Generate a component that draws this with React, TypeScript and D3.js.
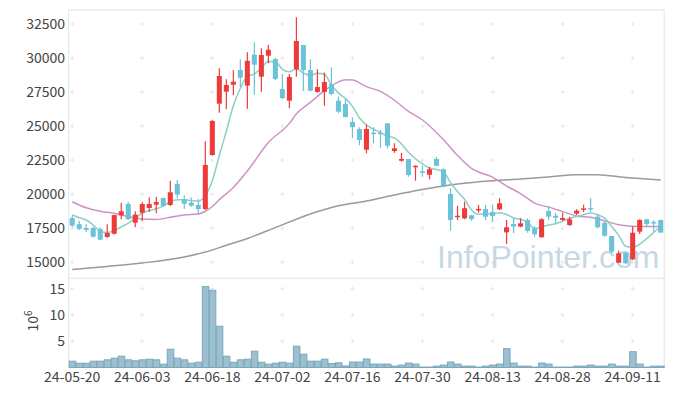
import React from 'react'
import * as d3 from 'd3'

const dates = [
  '24-05-20', '24-05-21', '24-05-22', '24-05-23', '24-05-24', '24-05-27', '24-05-28', '24-05-29', '24-05-30', '24-05-31',
  '24-06-03', '24-06-04', '24-06-05', '24-06-07', '24-06-10', '24-06-11', '24-06-12', '24-06-13', '24-06-14', '24-06-17',
  '24-06-18', '24-06-19', '24-06-20', '24-06-21', '24-06-24', '24-06-25', '24-06-26', '24-06-27', '24-06-28',
  '24-07-01', '24-07-02', '24-07-03', '24-07-04', '24-07-05', '24-07-08', '24-07-09', '24-07-10', '24-07-11', '24-07-12',
  '24-07-15', '24-07-16', '24-07-17', '24-07-18', '24-07-19', '24-07-22', '24-07-23', '24-07-24', '24-07-25', '24-07-26',
  '24-07-29', '24-07-30', '24-07-31',
  '24-08-01', '24-08-02', '24-08-05', '24-08-06', '24-08-07', '24-08-08', '24-08-09', '24-08-12', '24-08-13', '24-08-14',
  '24-08-16', '24-08-19', '24-08-20', '24-08-21', '24-08-22', '24-08-23', '24-08-26', '24-08-27', '24-08-28', '24-08-29',
  '24-08-30',
  '24-09-02', '24-09-03', '24-09-04', '24-09-05', '24-09-06', '24-09-09', '24-09-10', '24-09-11', '24-09-12', '24-09-13',
  '24-09-19', '24-09-20',
]

const opens = [
  18250, 17800, 17520, 17520, 17450, 16860, 17100, 18450, 19280, 17910,
  18640, 18990, 19230, 19720, 19210, 20760, 19630, 19380, 19210, 18910,
  22880, 26650, 27530, 28040, 29120, 27970, 30250, 28630, 30170, 29930,
  27720, 26870, 29170, 30960, 29120, 27510, 27510, 28090, 26870, 26630,
  25300, 24790, 23270, 24520, 24520, 25210, 23170, 22460, 22590, 21990,
  21680, 21430, 22590, 21830, 20020, 18360, 18230, 18450, 18860, 18910,
  18700, 18890, 17200, 17810, 17620, 18110, 17500, 16840, 18770, 18420,
  18110, 17740, 18570, 18900, 18990, 18350, 17910, 16930, 14970, 15700,
  15220, 17250, 18160, 17960, 18110,
]
const highs = [
  18420, 18050, 17800, 17620, 17570, 17800, 18500, 19380, 19450, 18750,
  19430, 19770, 19820, 19750, 20990, 21050, 19920, 19770, 19650, 23890,
  25450, 29250, 28440, 29100, 29910, 30420, 31160, 30720, 30980, 30030,
  28820, 28820, 32990, 30960, 29910, 29170, 28930, 29320, 27160, 26970,
  25650, 24910, 25100, 24910, 24720, 25210, 23740, 23050, 22590, 22100,
  22090, 22020, 22760, 21900, 20440, 19160, 19450, 18480, 19210, 19210,
  19250, 19700, 18100, 18230, 18230, 18230, 17620, 18230, 19140, 18640,
  18640, 18350, 18890, 19230, 19700, 18550, 17980, 16950, 15850, 15780,
  17620, 18160, 18180, 18110, 18130,
]
const lows = [
  17600, 17350, 17230, 16830, 16620, 16800, 17050, 18160, 18100, 17570,
  18010, 18700, 18600, 19100, 19130, 19700, 18940, 19080, 18550, 18840,
  22830, 25990, 26240, 27260, 27900, 26280, 27310, 27530, 29620, 28390,
  26970, 26310, 28630, 27580, 27560, 27460, 26500, 27270, 25940, 25650,
  24110, 23590, 23000, 23740, 23400, 23350, 23050, 22390, 21290, 20990,
  21290, 21100, 22070, 20510, 17320, 18100, 18160, 18060, 18640, 18110,
  17950, 18840, 16340, 17130, 17570, 17170, 16880, 16830, 18110, 17860,
  18060, 17670, 18470, 18670, 18720, 17500, 16880, 15660, 14970, 14880,
  15170, 17080, 17570, 17250, 17170,
]
const closes = [
  17700, 17450, 17380, 16880, 16660, 17150, 18470, 18750, 18160, 18500,
  19280, 19280, 19430, 19140, 20140, 19970, 19300, 19160, 18910, 22150,
  25380, 28680, 28020, 28260, 28560, 29800, 29510, 30220, 30610, 28460,
  27060, 28610, 31250, 29120, 27600, 27870, 28240, 27360, 26060, 25670,
  24930, 23980, 24790, 24480, 24470, 23560, 23370, 22590, 21410, 22090,
  21640, 21830, 22090, 20550, 18110, 18420, 18970, 18180, 18920, 18350,
  18400, 19330, 17570, 17620, 17860, 17300, 17060, 18160, 18350, 18270,
  18250, 18160, 18790, 18960, 18940, 17570, 16950, 15780, 15660, 14930,
  17170, 18110, 17810, 17920, 17180,
]
// volume, millions of shares
const volumes = [
  1.2, 0.82, 0.82, 1.2, 1.2, 1.46, 1.77, 2.15, 1.46, 1.27,
  1.46, 1.58, 1.46, 0.63, 3.48, 1.77, 1.46, 0.82, 1.0, 15.4,
  14.7, 7.85, 2.15, 1.0, 1.46, 1.58, 3.1, 1.0, 0.63, 0.82,
  1.0, 0.82, 4.05, 2.53, 1.2, 1.2, 1.58, 0.75, 0.9, 0.3,
  1.04, 1.04, 1.63, 0.65, 0.65, 0.65, 0.26, 0.46, 0.85, 0.65,
  0.08, 0.08, 0.26, 0.46, 1.04, 0.65, 0.26, 0.26, 0.08, 0.26,
  0.46, 0.65, 3.58, 0.85, 0.26, 0.26, 0.08, 0.85, 0.65, 0.08,
  0.08, 0.08, 0.26, 0.26, 0.46, 0.26, 0.26, 0.65, 0.26, 0.26,
  3.0, 0.65, 0.08, 0.26, 0.26,
]

// short moving average (teal), one value per day
const maShort = [
  18470, 18275, 18107, 17740, 17300, 17180, 17330, 17600, 17880, 18230,
  18632, 18794, 18930, 19126, 19454, 19592, 19596, 19542, 19496, 19898,
  20980, 22856, 24628, 26498, 27780, 28664, 28830, 29270, 29740, 29720,
  29172, 28992, 29198, 28900, 28728, 28890, 28816, 28038, 27426, 27040,
  26452, 25600, 25086, 24770, 24530, 24256, 24134, 23694, 23080, 22604,
  22220, 21912, 21812, 21640, 20844, 20200, 19628, 18846, 18520, 18568,
  18564, 18636, 18514, 18254, 18156, 17936, 17482, 17600, 17746, 17828,
  18018, 18238, 18364, 18486, 18620, 18484, 18242, 17640, 16980, 16178,
  16098, 16330, 16736, 17188, 17638,
]
// mid moving average (pink), read at these days
const maMidDay = [0, 2, 4, 6, 8, 10, 12, 14, 16, 18, 19, 20, 21, 23, 25, 28, 31, 32, 34, 36, 38, 39, 40, 42, 44, 46, 48, 50, 53, 55, 57, 60, 62, 64, 66, 68, 70, 72, 74, 76, 78, 80, 82, 84]
const maMid = [19450, 19000, 18750, 18600, 18350, 18180, 18150, 18300, 18480, 18550, 18750, 19100, 19600, 20500, 21700, 23800, 25200, 25900, 26750, 27600, 28250, 28400, 28380, 27900, 27550, 26900, 26080, 25450, 24000, 22850, 21900, 21250, 20600, 20050, 19350, 19050, 18720, 18400, 18300, 18050, 17760, 17650, 17620, 17620]
// long moving average (gray), read at these days
const maLongDay = [0, 5, 10, 15, 19, 22, 25, 29, 34, 38, 42, 46, 50, 55, 60, 64, 68, 72, 75, 79, 84]
const maLong = [14480, 14700, 14950, 15300, 15750, 16250, 16750, 17550, 18550, 19150, 19500, 19950, 20350, 20750, 20990, 21120, 21270, 21430, 21430, 21220, 21040]

const priceTicks = [15000, 17500, 20000, 22500, 25000, 27500, 30000, 32500]
const volumeTicks = [5, 10, 15]
const dateTickEvery = 10

const W = 673
const H = 396
const left = 68.7
const right = 664.2
const top = 10
const mid = 278.3
const bottom = 367.5
const font = '"Noto Sans CJK KR", "Noto Sans", sans-serif'

export default function App() {
  const x = d3.scaleBand<string>().domain(dates).range([left, right])
  const bw = x.bandwidth()
  const cx = (i: number) => (x(dates[i]) as number) + bw / 2
  const yP = d3.scaleLinear().domain([15000, 32500]).range([262.3, 24])
  const yV = d3.scaleLinear().domain([0, 15]).range([bottom, 288.7])

  const lineShort = d3.line<number>().x((_, i) => cx(i)).y((d) => yP(d)).curve(d3.curveMonotoneX)
  const lineMid = d3.line<number>().x((_, k) => cx(maMidDay[k])).y((d) => yP(d)).curve(d3.curveMonotoneX)
  const lineLong = d3.line<number>().x((_, k) => cx(maLongDay[k])).y((d) => yP(d)).curve(d3.curveMonotoneX)

  const tickIdx = dates.map((_, i) => i).filter((i) => i % dateTickEvery === 0)
  const bodyW = bw * 0.72

  const cross = (px: number, py: number, key: string) => (
    <g key={key} stroke="#e6e6e6" strokeWidth={1}>
      <line x1={px - 2} x2={px + 2} y1={py} y2={py} />
      <line x1={px} x2={px} y1={py - 2} y2={py + 2} />
    </g>
  )

  return (
    <div style={{ position: 'absolute', left: 0, top: 0 }}>
      <svg width={W} height={H} style={{ display: 'block', background: '#fff' }} fontFamily={font}>
        <defs>
          <clipPath id="pclip">
            <rect x={left} y={top} width={right - left} height={mid - top} />
          </clipPath>
        </defs>

        {/* grid crosses */}
        {tickIdx.map((i) => priceTicks.map((t) => cross(cx(i), yP(t), `p${i}-${t}`)))}
        {tickIdx.map((i) => volumeTicks.map((t) => cross(cx(i), yV(t), `v${i}-${t}`)))}

        {/* watermark */}
        <text x={437} y={268} fontSize={32} fill="#bdd3df" fontFamily='"Liberation Sans", Arial, sans-serif' opacity={0.85}>
          InfoPointer.com
        </text>

        {/* panel frames */}
        <rect x={left} y={top} width={right - left} height={mid - top} fill="none" stroke="#e4e4e4" />
        <line x1={left} x2={left} y1={mid} y2={bottom} stroke="#e4e4e4" />
        <line x1={right} x2={right} y1={mid} y2={bottom} stroke="#e4e4e4" />

        <g clipPath="url(#pclip)">
          <path d={lineLong(maLong) ?? ''} fill="none" stroke="#9a9a9a" strokeWidth={1.5} />
          <path d={lineMid(maMid) ?? ''} fill="none" stroke="#cf92c8" strokeWidth={1.5} />
          <path d={lineShort(maShort) ?? ''} fill="none" stroke="#8ccfc3" strokeWidth={1.5} />

          {dates.map((d, i) => {
            const up = closes[i] >= opens[i]
            const col = up ? '#ef3a3a' : '#6cc2d8'
            const yTop = yP(Math.max(opens[i], closes[i]))
            const yBot = yP(Math.min(opens[i], closes[i]))
            return (
              <g key={d}>
                <line x1={cx(i)} x2={cx(i)} y1={yP(highs[i])} y2={yP(lows[i])} stroke={col} strokeWidth={1.2} />
                <rect x={cx(i) - bodyW / 2} y={yTop} width={bodyW} height={Math.max(1.5, yBot - yTop)} fill={col} />
              </g>
            )
          })}
        </g>

        {/* volume */}
        {dates.map((d, i) => (
          <rect
            key={d}
            x={(x(d) as number) + 0.5}
            y={yV(volumes[i])}
            width={bw - 0.5}
            height={bottom - yV(volumes[i])}
            fill="#9cc0d0"
            stroke="#7ba7bb"
            strokeWidth={1}
          />
        ))}

        {/* y axis labels */}
        {priceTicks.map((t) => (
          <text key={t} x={65} y={yP(t)} dy="0.35em" textAnchor="end" fontSize={14} fill="#444">
            {t}
          </text>
        ))}
        {volumeTicks.map((t) => (
          <text key={t} x={65} y={yV(t)} dy="0.35em" textAnchor="end" fontSize={14} fill="#444">
            {t}
          </text>
        ))}
        <text transform="translate(38,321) rotate(-90)" textAnchor="middle" fontSize={14} fill="#444">
          10<tspan fontSize={10} dy={-6}>6</tspan>
        </text>

        {/* x axis labels */}
        {tickIdx.map((i) => (
          <text key={i} x={cx(i)} y={382} textAnchor="middle" fontSize={14} fill="#444">
            {dates[i]}
          </text>
        ))}
      </svg>
    </div>
  )
}
